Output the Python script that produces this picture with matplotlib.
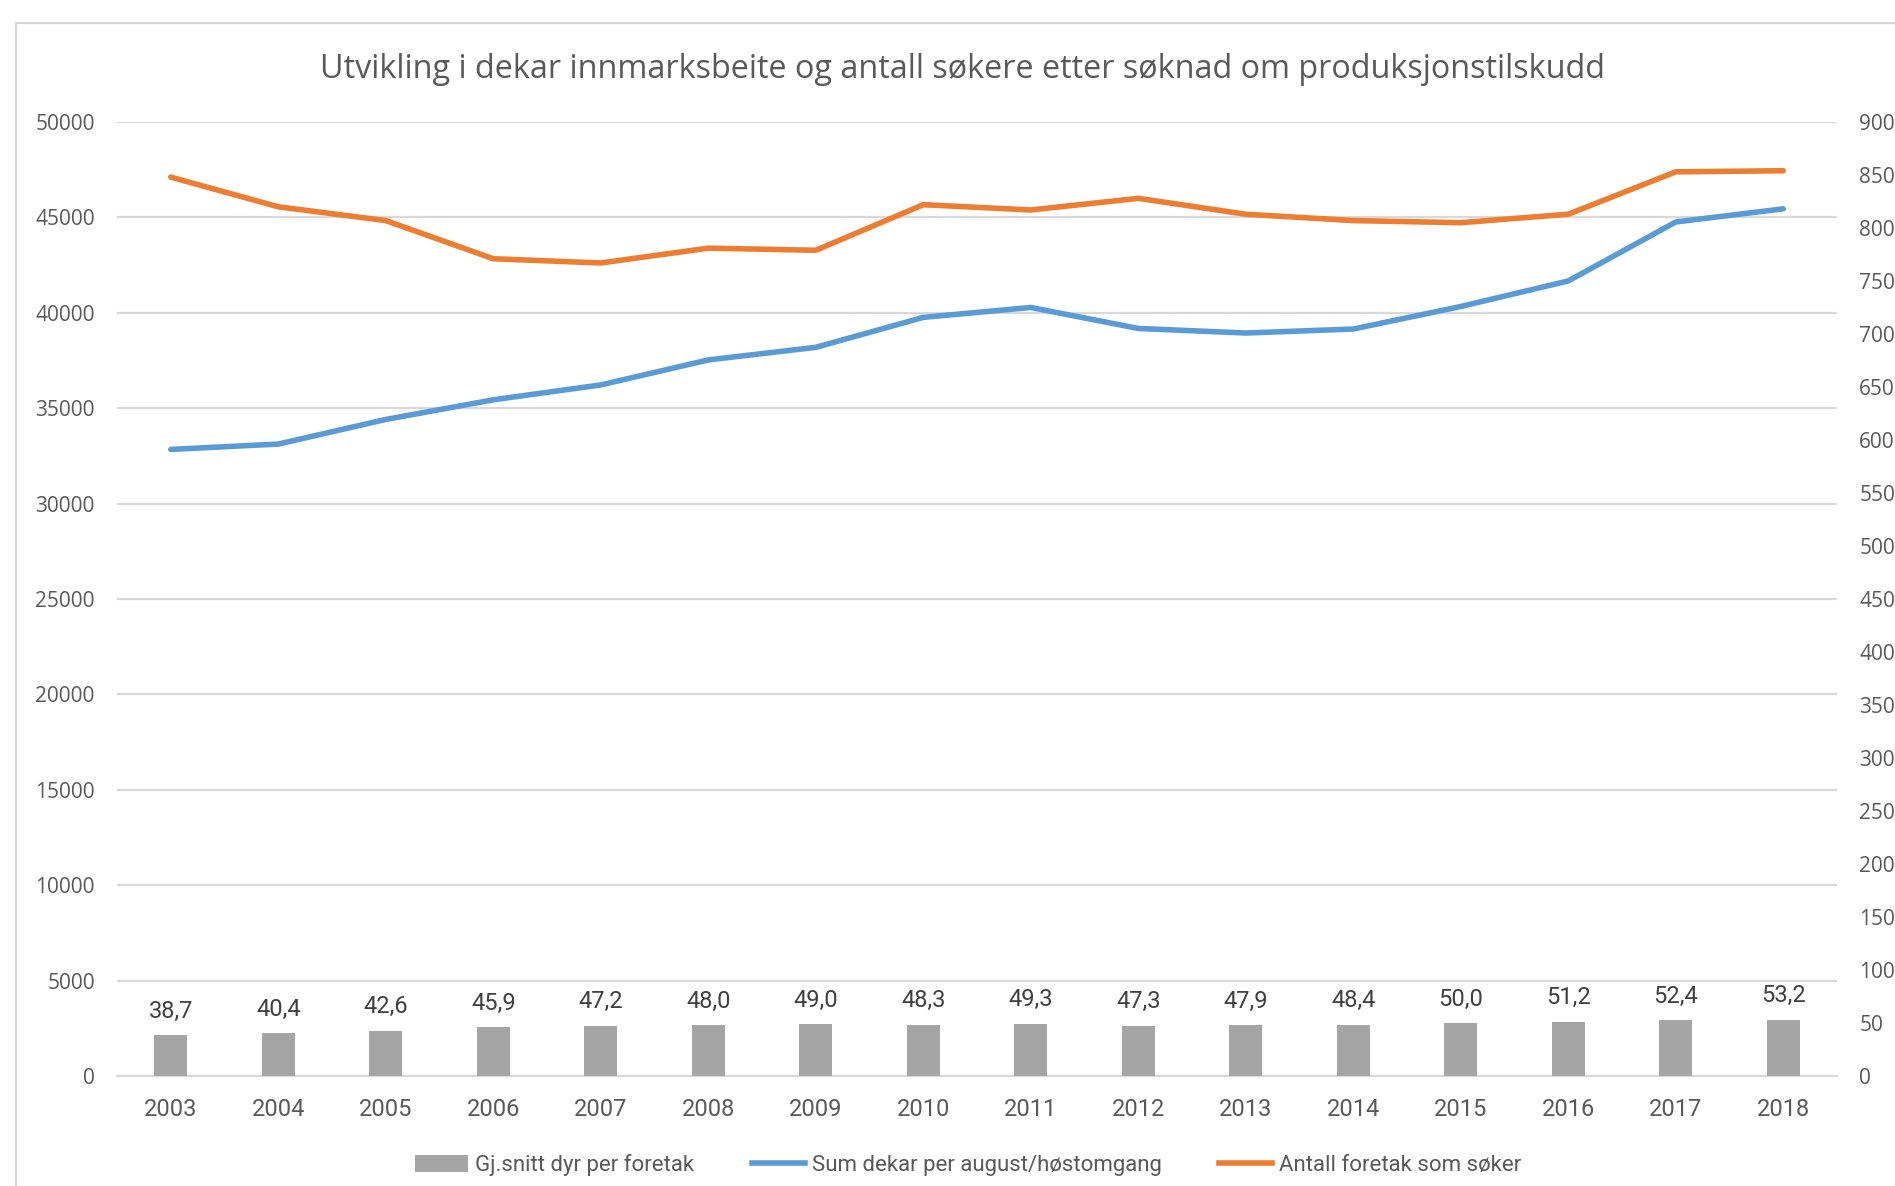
import matplotlib
matplotlib.use("Agg")
import matplotlib.pyplot as plt
from matplotlib import font_manager
from matplotlib.patches import Patch, Rectangle
from matplotlib.lines import Line2D

years = ["2003", "2004", "2005", "2006", "2007", "2008", "2009", "2010",
         "2011", "2012", "2013", "2014", "2015", "2016", "2017", "2018"]
dyr_per_foretak = [38.7, 40.4, 42.6, 45.9, 47.2, 48.0, 49.0, 48.3,
                   49.3, 47.3, 47.9, 48.4, 50.0, 51.2, 52.4, 53.2]
sum_dekar = [32840, 33120, 34410, 35440, 36220, 37530, 38190, 39760,
             40280, 39180, 38940, 39150, 40330, 41670, 44760, 45450]
antall_foretak = [848, 820, 807, 771, 767, 781, 779, 822,
                  817, 828, 813, 807, 805, 813, 853, 854]

title = "Utvikling i dekar innmarksbeite og antall søkere etter søknad om produksjonstilskudd"
legend_labels = ["Gj.snitt dyr per foretak", "Sum dekar per august/høstomgang",
                 "Antall foretak som søker"]

available = {f.name for f in font_manager.fontManager.ttflist}
narrow = "Liberation Sans Narrow" if "Liberation Sans Narrow" in available else "Roboto"
wide = "Open Sans" if "Open Sans" in available else "DejaVu Sans"

TXT = "#595959"
GRID = "#D9D9D9"
BLUE = "#5B9BD5"
ORANGE = "#ED7D31"
GRAY = "#A5A5A5"

W, H = 1895, 1186
fig = plt.figure(figsize=(W / 100, H / 100), dpi=100)
fig.patch.set_facecolor("white")

# chart frame
fig.patches.append(Rectangle((16 / W, -0.1), 1.2, 1 - 23 / H + 0.1,
                             transform=fig.transFigure, fill=False,
                             edgecolor=GRID, linewidth=1.6))

left, right, top, bottom = 117, 1837, 122, 1076
ax1 = fig.add_axes([left / W, 1 - bottom / H, (right - left) / W, (bottom - top) / H])
ax2 = ax1.twinx()

x = list(range(len(years)))

ax1.plot(x, sum_dekar, color=BLUE, linewidth=4.0, solid_capstyle="round",
         solid_joinstyle="round", zorder=3)
ax2.bar(x, dyr_per_foretak, width=0.31, color=GRAY, zorder=2)
ax2.plot(x, antall_foretak, color=ORANGE, linewidth=4.0, solid_capstyle="round",
         solid_joinstyle="round", zorder=3)

for xi, v in zip(x, dyr_per_foretak):
    ax2.annotate(f"{v:.1f}".replace(".", ","), (xi, v), xytext=(0, 9),
                 textcoords="offset points", ha="center", va="bottom",
                 fontsize=17, color="#404040", family=narrow)

ax1.set_xlim(-0.5, len(years) - 0.5)
ax1.set_ylim(0, 50000)
ax1.set_yticks(range(0, 50001, 5000))
ax2.set_ylim(0, 900)
ax2.set_yticks(range(0, 901, 50))
ax1.set_xticks(x)
ax1.set_xticklabels(years, family=narrow, fontsize=17, color=TXT)

for ax in (ax1, ax2):
    for s in ax.spines.values():
        s.set_visible(False)
    ax.tick_params(length=0)

ax1.spines["bottom"].set_visible(True)
ax1.spines["bottom"].set_color(GRID)
ax1.spines["bottom"].set_linewidth(1.6)
ax1.tick_params(axis="x", pad=16)
ax1.tick_params(axis="y", pad=16, labelsize=15, labelcolor=TXT)
ax2.tick_params(axis="y", pad=16, labelsize=15, labelcolor=TXT)
for lab in ax1.get_yticklabels() + ax2.get_yticklabels():
    lab.set_family(wide)

ax1.grid(axis="y", color=GRID, linewidth=1.6)
ax1.set_axisbelow(True)

fig.text(963 / W, 1 - 70 / H, title, ha="center", va="center",
         fontsize=23.3, color=TXT, family=wide)

handles = [Patch(facecolor=GRAY, edgecolor="none"),
           Line2D([], [], color=BLUE, linewidth=4.0),
           Line2D([], [], color=ORANGE, linewidth=4.0)]
fig.legend(handles, legend_labels, loc="center", ncol=3,
           bbox_to_anchor=(968 / W, 1 - 1165 / H), frameon=False,
           prop={"family": narrow, "size": 16}, labelcolor=TXT,
           handlelength=2.4, handletextpad=0.3, columnspacing=2.6,
           handleheight=0.8)

fig.savefig("out.png", dpi=100, facecolor="white")
